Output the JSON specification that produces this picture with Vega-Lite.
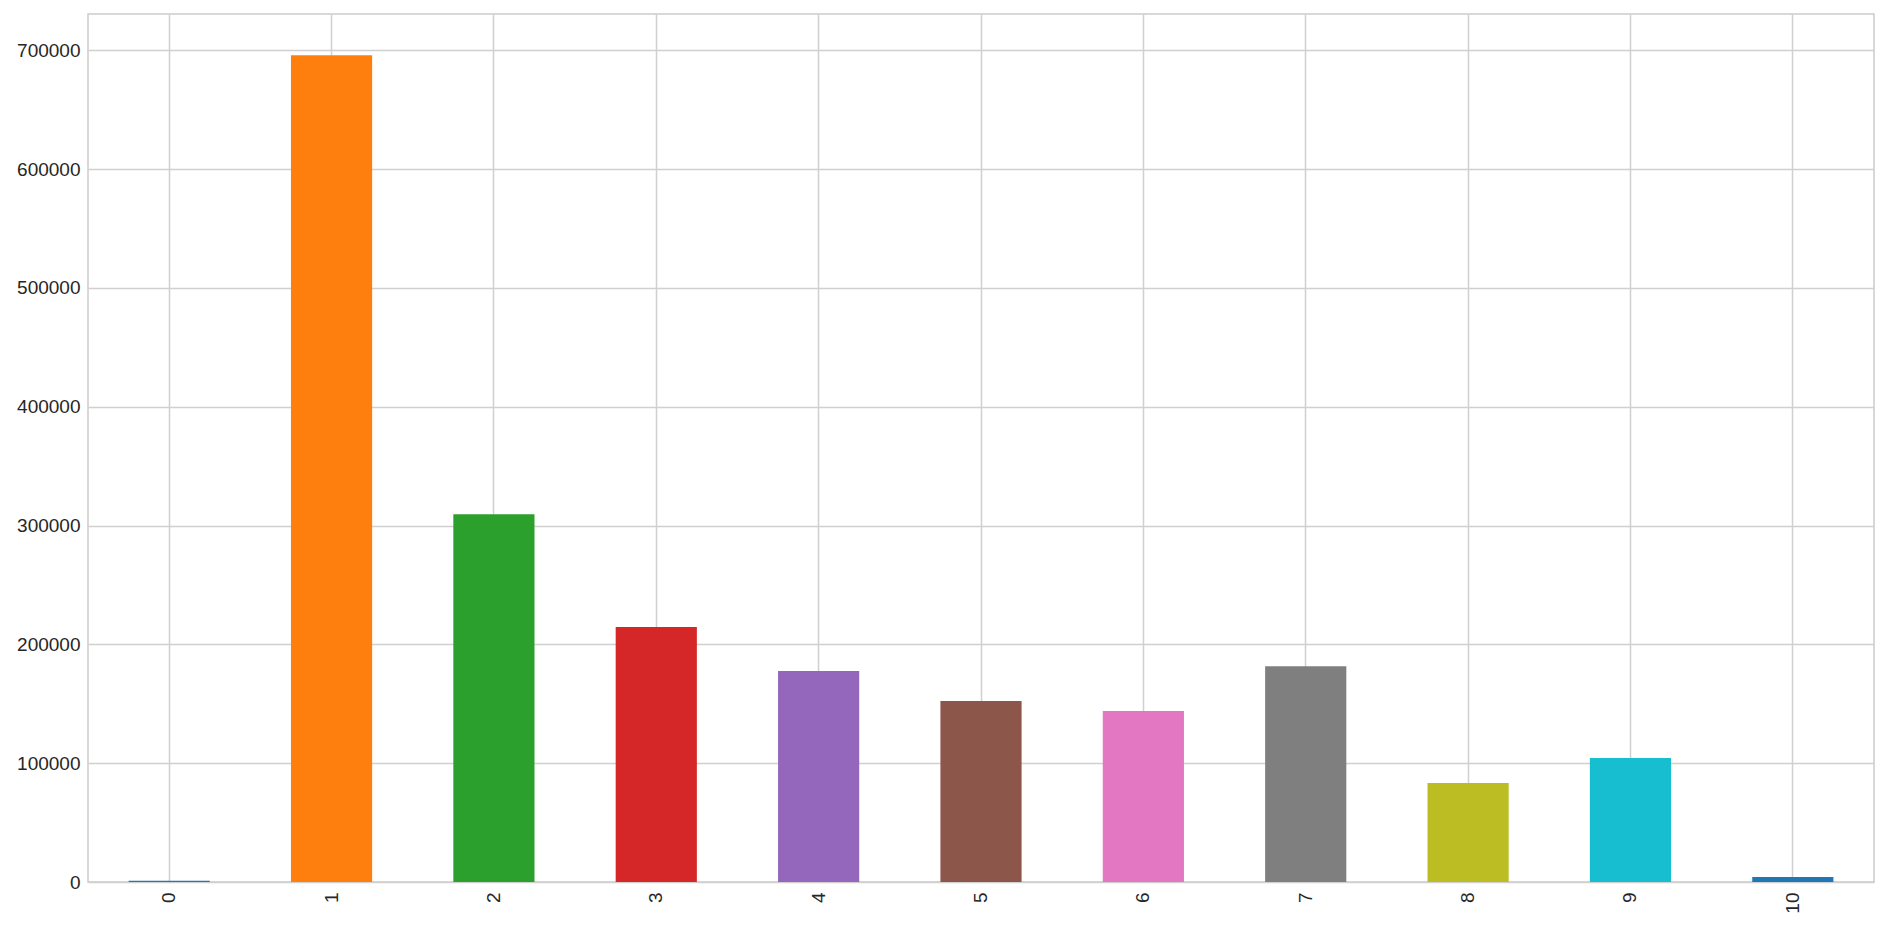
{
  "$schema": "https://vega.github.io/schema/vega-lite/v6.json",
  "autosize": {"type": "none"},
  "padding": {"left": 88, "top": 14, "right": 14, "bottom": 45},
  "width": 1786,
  "height": 868,
  "background": "white",
  "config": {
    "view": {"stroke": "#cccccc", "strokeWidth": 1.5},
    "axis": {
      "labelFont": "Liberation Sans",
      "labelFontSize": 19,
      "labelColor": "#262626",
      "gridColor": "#d0d0d0",
      "gridWidth": 1.5,
      "domain": false,
      "ticks": false,
      "title": null
    }
  },
  "data": {
    "values": [
      {"category": 0, "value": 1000},
      {"category": 1, "value": 695700},
      {"category": 2, "value": 309400},
      {"category": 3, "value": 214600},
      {"category": 4, "value": 177600},
      {"category": 5, "value": 152300},
      {"category": 6, "value": 143900},
      {"category": 7, "value": 181500},
      {"category": 8, "value": 83300},
      {"category": 9, "value": 104300},
      {"category": 10, "value": 4300}
    ]
  },
  "mark": {"type": "bar"},
  "encoding": {
    "x": {
      "field": "category",
      "type": "ordinal",
      "scale": {"paddingInner": 0.5, "paddingOuter": 0.25},
      "axis": {"labelAngle": -90, "labelPadding": 10, "grid": true, "labelBaseline": "middle", "labelAlign": "right"}
    },
    "y": {
      "field": "value",
      "type": "quantitative",
      "scale": {"domain": [0, 730500], "nice": false, "zero": true},
      "axis": {"values": [0, 100000, 200000, 300000, 400000, 500000, 600000, 700000], "format": "d", "labelPadding": 8}
    },
    "color": {
      "field": "category",
      "type": "ordinal",
      "scale": {
        "domain": [0, 1, 2, 3, 4, 5, 6, 7, 8, 9, 10],
        "range": ["#1f77b4", "#ff7f0e", "#2ca02c", "#d62728", "#9467bd", "#8c564b", "#e377c2", "#7f7f7f", "#bcbd22", "#17becf", "#1f77b4"]
      },
      "legend": null
    }
  }
}
